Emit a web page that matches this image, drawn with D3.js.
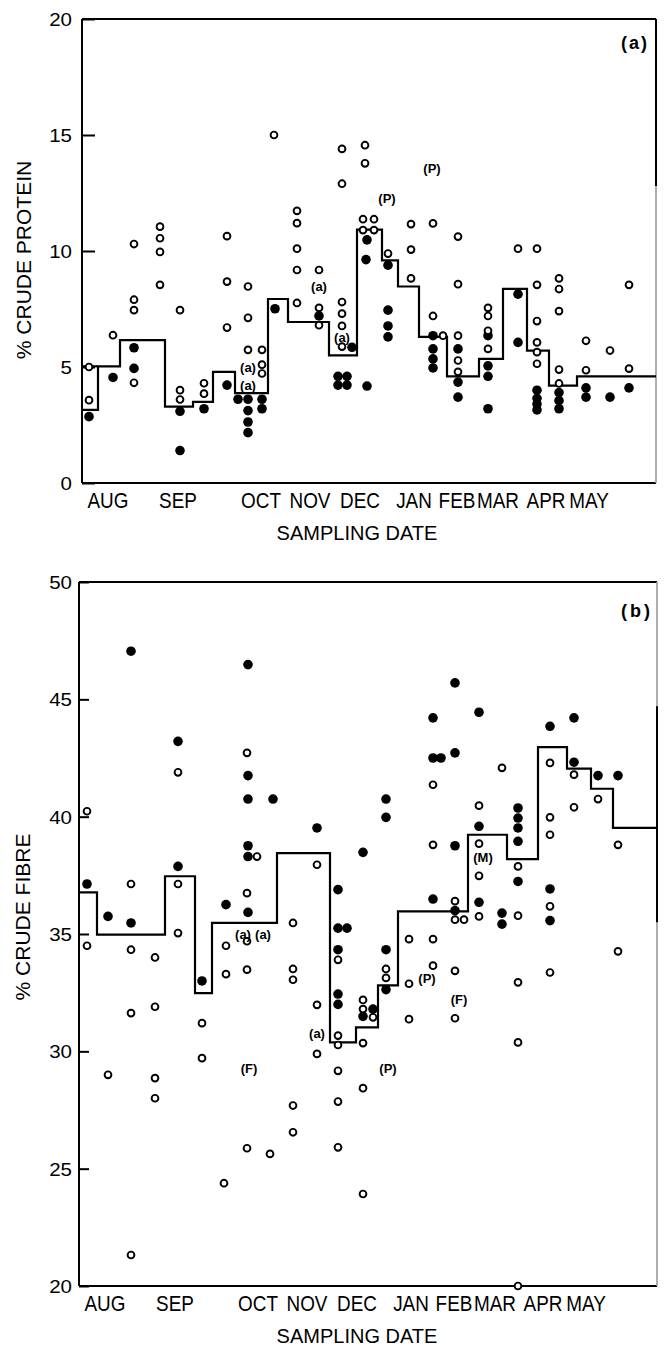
<!DOCTYPE html>
<html><head><meta charset="utf-8">
<script src="https://cdn.jsdelivr.net/npm/d3@7"></script>
<style>
body{margin:0;background:#fff}
svg{display:block}
text{font-family:"Liberation Sans",Arial,sans-serif;fill:#000}
</style>
</head><body><svg id="c" width="664" height="1349"></svg>
<script>
// ---------- data ----------
const months = ["AUG","SEP","OCT","NOV","DEC","JAN","FEB","MAR","APR","MAY"];
const monthDays = [13, 48, 89.5, 114, 139, 166, 187.5, 208, 232, 253.5];
const proteinTicks = [0, 5, 10, 15, 20];
const fibreTicks = [20, 25, 30, 35, 40, 45, 50];

// step (mean) lines: breakpoints in days, level of each interval
const proteinStepDays = [0, 8, 19, 41.5, 55.5, 65.5, 76.5, 93, 103, 123.5, 137.5, 150, 158, 168.5, 182.5, 198.5, 210.5, 222.5, 233.5, 247.5, 287];
const proteinStepLevels = [3.15, 5.03, 6.16, 3.29, 3.5, 4.79, 3.87, 7.93, 6.94, 5.5, 10.92, 9.6, 8.47, 6.3, 4.6, 5.35, 8.37, 5.71, 4.2, 4.6];
const fibreStepDays = [0, 9, 43, 58, 66.5, 99, 125.5, 138.5, 149.5, 159.5, 194.5, 214, 229.5, 244, 256, 267, 289];
const fibreStepLevels = [36.77, 34.97, 37.46, 32.48, 35.47, 38.45, 30.38, 31.02, 32.81, 35.96, 39.23, 38.19, 42.96, 42.05, 41.19, 39.52];

// samples: [day, value, value, ...]
const proteinOpen = [
  [3.5, 5.0, 3.57], [15.5, 6.37], [26, 10.3, 7.9, 7.45, 4.32], [39, 11.05, 10.55, 9.96, 8.54],
  [49, 7.45, 4.0, 3.6], [61, 4.3, 3.85], [72.5, 10.64, 8.68, 6.7], [83, 8.47, 7.12, 5.74],
  [90, 5.74, 5.1, 4.72], [96, 15.0], [107.5, 11.73, 11.2, 10.1, 9.18, 7.76], [118.5, 9.18, 7.55, 6.8],
  [130, 14.4, 12.9, 7.8, 7.3, 6.77, 5.88], [141.5, 14.56, 13.78], [140.5, 11.37, 10.9], [146, 11.37, 10.9],
  [153, 9.89], [164.5, 11.16, 10.06, 8.82], [175.5, 11.19, 7.2], [180.5, 6.35],
  [188, 10.62, 8.57, 6.35, 5.28, 4.79], [203, 7.55, 7.2, 6.56, 5.78], [218, 10.1],
  [227.5, 10.1, 8.54, 6.98, 6.06, 5.64, 5.14], [238.5, 8.82, 8.36, 7.41, 4.89, 4.29],
  [252, 6.13, 4.86], [264, 5.71], [273.5, 8.54, 4.93]
];
const proteinFilled = [
  [3.5, 2.86], [15.5, 4.55], [26, 5.83, 4.94], [49, 3.09, 1.4], [61, 3.2], [72.5, 4.22], [78, 3.61],
  [83, 3.61, 3.12, 2.63, 2.17], [90, 3.61, 3.2], [96.5, 7.51], [118.5, 7.2], [128, 4.6, 4.22],
  [132.5, 4.6, 4.22], [135, 5.85], [142.5, 4.18, 10.48], [142, 9.63], [153, 9.39, 7.45, 6.77, 6.3],
  [175.5, 6.35, 5.78, 5.35, 4.96], [188, 5.78, 4.35, 3.7], [203, 6.35, 5.05, 4.6, 3.2],
  [218, 8.14, 6.06], [227.5, 4.0, 3.65, 3.4, 3.15], [238.5, 3.9, 3.55, 3.2], [252, 4.1, 3.7],
  [264, 3.7], [273.5, 4.1]
];
const proteinNotes = [[83, 4.97, "(a)"], [83, 4.22, "(a)"], [118.5, 8.47, "(a)"], [130, 6.27, "(a)"], [152.5, 12.25, "(P)"], [175, 13.57, "(P)"]];

const fibreOpen = [
  [4, 40.23, 34.5], [14.5, 29.0], [26, 37.13, 34.33, 31.63, 21.32], [38, 34.0, 31.9, 28.86, 28.0],
  [49.5, 41.89, 37.13, 35.04], [61.5, 31.2, 29.71], [73.5, 34.5, 33.29], [72.5, 24.38],
  [84, 42.72, 36.74, 34.69, 33.48, 25.87], [89, 38.3], [95.5, 25.63],
  [107, 35.47, 33.51, 33.05, 27.69, 26.55], [119, 37.95, 31.98, 29.89],
  [129.5, 33.9, 30.67, 30.27, 29.17, 27.86, 25.91], [142, 32.19, 31.8, 30.35, 28.43, 23.92], [147, 31.45],
  [153.5, 33.51, 33.13], [165, 34.78, 32.88, 31.37], [177, 41.36, 38.8, 34.78, 33.65],
  [188, 36.4, 35.61, 33.43, 31.41], [192.5, 35.61], [200, 40.47, 38.85, 37.48, 35.75], [211.5, 42.08],
  [219.5, 37.88, 35.78, 32.94, 30.38, 20.0], [235.5, 42.29, 39.97, 39.23, 36.18, 33.36],
  [247.5, 41.79, 40.4], [259.5, 40.75], [269.5, 38.8, 34.26]
];
const fibreFilled = [
  [4, 37.13], [14.5, 35.75], [26, 47.05, 35.47], [49.5, 43.21, 37.88], [61.5, 33.0], [73.5, 36.25],
  [84.5, 46.48, 41.75, 40.75, 38.76, 38.3, 35.92], [97, 40.75], [119, 39.52],
  [129.5, 36.89, 35.25, 34.33, 32.44, 32.0], [134, 35.25], [142, 38.48, 31.49], [147, 31.8],
  [153.5, 40.75, 39.97, 34.33, 32.63], [177, 44.21, 42.5, 36.49], [181, 42.5],
  [188, 45.7, 42.72, 38.76, 36.0], [200, 44.45, 39.59, 36.35], [211.5, 35.89, 35.42],
  [219.5, 40.37, 39.94, 39.52, 38.95, 37.24], [235.5, 43.85, 36.92, 35.57], [247.5, 44.21, 42.32],
  [259.5, 41.75], [269.5, 41.75]
];
const fibreNotes = [[82, 34.97, "(a)"], [92, 34.97, "(a)"], [85, 29.28, "(F)"], [119, 30.77, "(a)"], [154.5, 29.28, "(P)"], [174, 33.12, "(P)"], [190, 32.2, "(F)"], [202, 38.28, "(M)"]];

// ---------- drawing ----------
const svg = d3.select("#c");

function panel(cfg) {
  const x = d3.scaleLinear().domain(cfg.xDomain).range([cfg.left, cfg.right]);
  const y = d3.scaleLinear().domain(cfg.yDomain).range([cfg.bottom, cfg.top]);
  const g = svg.append("g");

  // frame: left, top, bottom solid; right partly faded (as in the scan)
  const [y0, y1] = cfg.yDomain;
  const ln = (x1, y1_, x2, y2, c, w) => g.append("line").attr("x1", x1).attr("y1", y1_).attr("x2", x2).attr("y2", y2).attr("stroke", c).attr("stroke-width", w);
  ln(cfg.left, y(y1), cfg.left, y(y0), "#000", 2);
  ln(cfg.left, y(y1), cfg.right, y(y1), "#000", 2);
  ln(cfg.left, y(y0), cfg.right, y(y0), "#000", 2);
  ln(cfg.right, y(y1), cfg.right, y(y0), "#9a9a9a", 1.6);
  ln(cfg.right, y(cfg.darkRight[0]), cfg.right, y(cfg.darkRight[1]), "#000", 2);

  // y axis ticks (inward) and labels
  const yAxis = d3.axisRight(y).tickValues(cfg.ticks).tickSize(cfg.tickLen).tickFormat("");
  const ya = g.append("g").attr("transform", `translate(${cfg.left},0)`).call(yAxis);
  ya.select(".domain").remove();
  ya.selectAll(".tick line").attr("stroke", "#000").attr("stroke-width", 2);
  g.selectAll(".ylab").data(cfg.ticks).join("text")
    .attr("transform", d => `translate(${cfg.left - cfg.labGap},${y(d)}) scale(1.08,1)`)
    .attr("dy", "0.36em").attr("text-anchor", "end").attr("font-size", 19).text(d => d);

  // month labels (condensed lettering)
  g.selectAll(".mlab").data(months).join("text")
    .attr("transform", (d, i) => `translate(${x(monthDays[i])},${cfg.bottom + 25}) scale(0.86,1)`)
    .attr("text-anchor", "middle").attr("font-size", 22).text(d => d);
  g.append("text").attr("x", 357).attr("y", cfg.bottom + 57).attr("text-anchor", "middle")
    .attr("font-size", 20).text("SAMPLING DATE");

  // y title
  g.append("text").attr("transform", `translate(${cfg.titleX},${cfg.titleY}) rotate(-90)`)
    .attr("text-anchor", "middle").attr("font-size", 21).text(cfg.title);

  // panel letter
  g.append("text").attr("x", x(cfg.letterPos[0])).attr("y", y(cfg.letterPos[1])).attr("dy", "0.36em")
    .attr("text-anchor", "middle").attr("font-size", 18).attr("font-weight", "bold")
    .attr("letter-spacing", cfg.letterSpacing).text(cfg.letter);

  // step line of means
  const stepPts = cfg.levels.map((l, i) => [cfg.stepDays[i], l]);
  stepPts.push([cfg.stepDays[cfg.stepDays.length - 1], cfg.levels[cfg.levels.length - 1]]);
  g.append("path").datum(stepPts)
    .attr("d", d3.line().x(d => x(d[0])).y(d => y(d[1])).curve(d3.curveStepAfter))
    .attr("fill", "none").attr("stroke", "#000").attr("stroke-width", 2.2);
  if (cfg.boxFirst) {
    // first interval drawn as a closed box up to the next level
    ln(x(cfg.stepDays[0]), y(cfg.levels[1]), x(cfg.stepDays[1]), y(cfg.levels[1]), "#000", 2.2);
  }

  const flat = arr => arr.flatMap(([d, ...vs]) => vs.map(v => ({ d, v })));
  g.selectAll(".filled").data(flat(cfg.filled)).join("circle")
    .attr("cx", d => x(d.d)).attr("cy", d => y(d.v)).attr("r", cfg.rFilled).attr("fill", "#000");
  g.selectAll(".open").data(flat(cfg.open)).join("circle")
    .attr("cx", d => x(d.d)).attr("cy", d => y(d.v)).attr("r", cfg.rOpen)
    .attr("fill", "#fff").attr("stroke", "#000").attr("stroke-width", 1.9);

  g.selectAll(".note").data(cfg.notes).join("text")
    .attr("x", d => x(d[0])).attr("y", d => y(d[1])).attr("dy", "0.36em")
    .attr("text-anchor", "middle").attr("font-size", 13).attr("font-weight", "bold").text(d => d[2]);
}

panel({
  left: 82, right: 656, top: 19, bottom: 483,
  xDomain: [0, 287], yDomain: [0, 20], ticks: proteinTicks, tickLen: 13, labGap: 10,
  darkRight: [20, 12.8],
  title: "% CRUDE PROTEIN", titleX: 31, titleY: 260,
  letter: "(a)", letterPos: [276.5, 19.0], letterSpacing: 2,
  stepDays: proteinStepDays, levels: proteinStepLevels, boxFirst: true,
  open: proteinOpen, filled: proteinFilled, notes: proteinNotes,
  rOpen: 3.4, rFilled: 4.8
});

panel({
  left: 79, right: 657, top: 582, bottom: 1286,
  xDomain: [0, 289], yDomain: [20, 50], ticks: fibreTicks, tickLen: 10, labGap: 7,
  darkRight: [44.7, 35.5],
  title: "% CRUDE FIBRE", titleX: 30, titleY: 917,
  letter: "(b)", letterPos: [279, 48.8], letterSpacing: 3,
  stepDays: fibreStepDays, levels: fibreStepLevels, boxFirst: false,
  open: fibreOpen, filled: fibreFilled, notes: fibreNotes,
  rOpen: 3.4, rFilled: 4.8
});
</script>
</body></html>
